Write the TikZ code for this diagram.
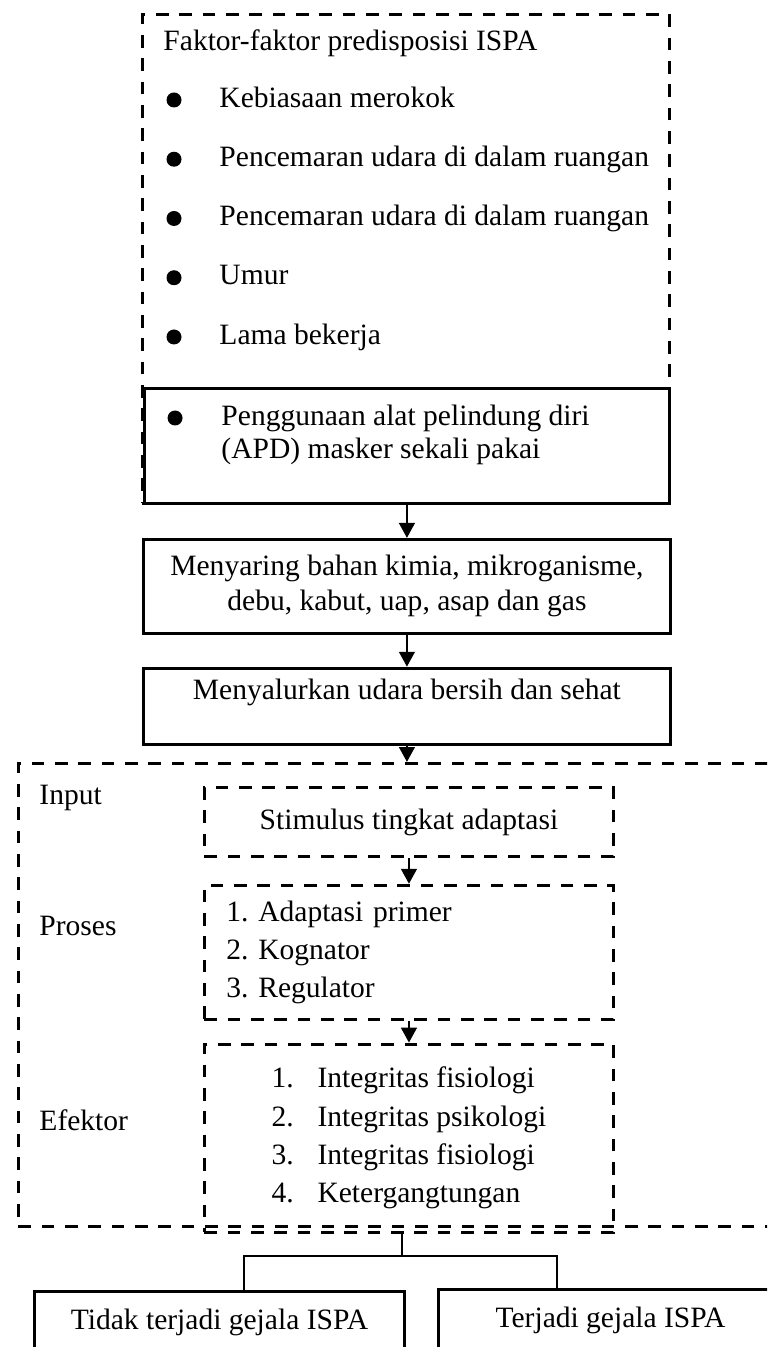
\documentclass[tikz,border=0pt]{standalone}
\usepackage{fontspec}
\setmainfont{Liberation Serif}
\usetikzlibrary{positioning, arrows.meta}
\frenchspacing

\begin{document}
\begin{tikzpicture}[
    x=0.42pt, y=-0.42pt,
    font=\fontsize{12.4}{14}\selectfont,
    solidbox/.style={draw, line width=1.2pt, inner sep=0pt, align=center},
    dashbox/.style={draw, line width=1.2pt, dash pattern=on 5.3pt off 4.5pt, inner sep=0pt, align=center},
    item/.style={anchor=west, inner sep=0pt, text height=8.5pt, text depth=2.5pt},
    arrow/.style={-{Triangle[length=6.3pt,width=6.5pt]}, line width=1.2pt},
    link/.style={line width=1.2pt}
]
\useasboundingbox (0,0) rectangle (767,1347);
\clip (0,0) rectangle (767,1347);

% Predisposing factors 
\node[dashbox, anchor=north west, minimum width=221.3pt, minimum height=205.4pt] (faktor) at (141,13) {};
\node[item] (judul) at (163,43) {Faktor-faktor predisposisi ISPA};
\foreach \teks [count=\i] in {Kebiasaan merokok, Pencemaran udara di dalam ruangan,
    Pencemaran udara di dalam ruangan, Umur, Lama bekerja} {
  \node[item] (f\i) at (219,40.75+59.25*\i) {\teks};
  \fill ([xshift=-18.9pt]f\i.west) circle (3.15pt);
}

% Mask box 
\node[solidbox, anchor=north west, minimum width=220.5pt, minimum height=48.3pt] (apd) at (143,387) {};
\node[item] (apd1) at (221,418) {Penggunaan alat pelindung diri};
\node[item] (apd2) at (221,451) {(APD) masker sekali pakai};
\fill ([xshift=-19.3pt]apd1.west) circle (3.15pt);

% Filtering chain 
\node[solidbox, below=13.9pt of apd, minimum width=221.3pt, minimum height=39.5pt,
    font=\fontsize{12.4}{14.7}\selectfont] (menyaring) {Menyaring bahan kimia, mikroganisme,\\
debu, kabut, uap, asap dan gas};

\node[solidbox, below=13.4pt of menyaring, minimum width=221.3pt, minimum height=31.9pt,
    text height=13pt, text depth=18.9pt] (menyalurkan) {Menyalurkan udara bersih dan sehat};

% Adaptation model 
\node[dashbox, anchor=north west, minimum width=324.7pt, minimum height=194.5pt] (adaptasi) at (17,762) {};

\node[dashbox, anchor=north west, minimum width=171.8pt, minimum height=29pt] (input) at (203,786) {Stimulus tingkat adaptasi};

\node[dashbox, below=10.9pt of input, minimum width=171.8pt, minimum height=56.3pt,
    text width=153.4pt, inner xsep=9.2pt, align=left,
    font=\fontsize{12.4}{16}\selectfont] (proses) {1. Adaptasi primer\\
2. Kognator\\
3. Regulator};

\node[dashbox, below=9.2pt of proses, minimum width=171.8pt, minimum height=79pt,
    align=left, font=\fontsize{12.4}{16.1}\selectfont] (efektor) {\makebox[19.3pt][l]{1.}Integritas fisiologi\\
\makebox[19.3pt][l]{2.}Integritas psikologi\\
\makebox[19.3pt][l]{3.}Integritas fisiologi\\
\makebox[19.3pt][l]{4.}Ketergangtungan};

\node[item] (lblinput) at (39,797) {Input};
\node[item] (lblproses) at (39,928) {Proses};
\node[item] (lblefektor) at (39,1123) {Efektor};

% Outcomes 
\node[solidbox, anchor=north west, minimum width=155.4pt, minimum height=37.8pt,
    text height=16pt, text depth=21.8pt] (tidak) at (33,1290) {Tidak terjadi gejala ISPA};
\node[solidbox, anchor=north west, minimum width=144.5pt, minimum height=37.8pt,
    text height=16pt, text depth=21.8pt] (terjadi) at (437,1288) {Terjadi gejala ISPA};

% Arrows 
\draw[arrow] (apd) -- (menyaring);
\draw[arrow] (menyaring) -- (menyalurkan);
\draw[arrow] (menyalurkan.south) -- (menyalurkan.south |- adaptasi.north);
\draw[arrow] (input) -- (proses);
\draw[arrow] (proses) -- (efektor);

% Split to outcomes 
\coordinate (cabang) at (402,1256);
\coordinate (kiri) at (244,1256);
\coordinate (kanan) at (557,1256);
\draw[link] (cabang |- efektor.south) -- (cabang);
\draw[link] (kiri |- tidak.north) -- (kiri) -- (kanan) -- (kanan |- terjadi.north);

\end{tikzpicture}
\end{document}
